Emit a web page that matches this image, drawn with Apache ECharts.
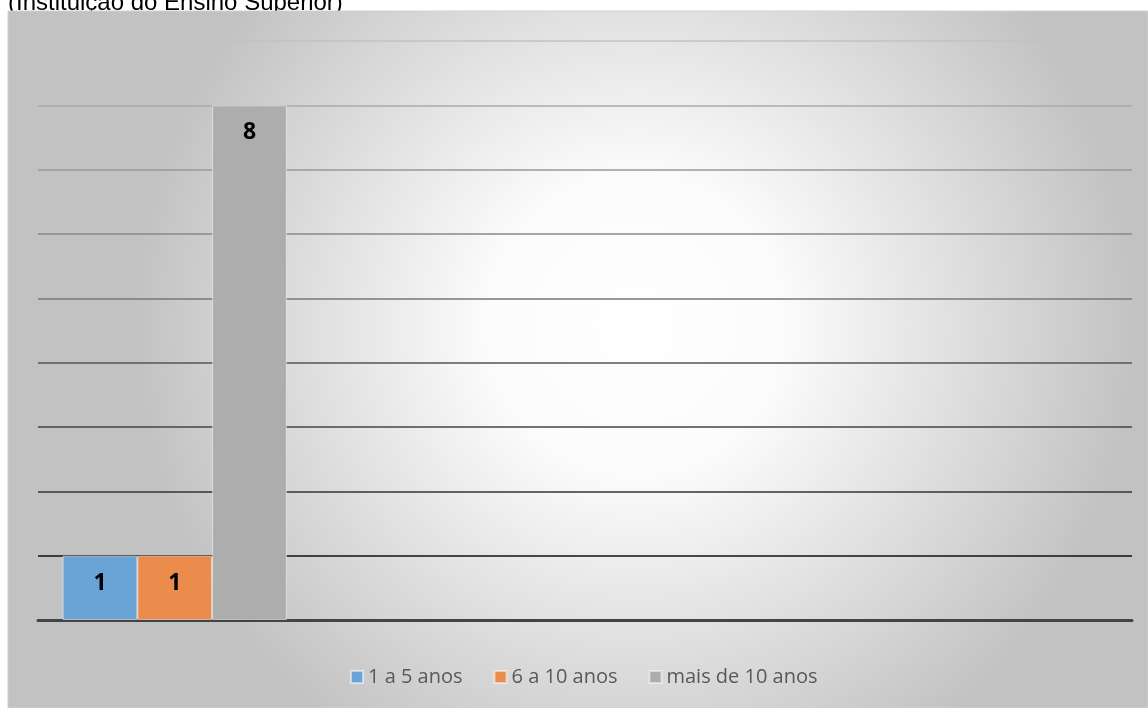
<!DOCTYPE html>
<html>
<head>
<meta charset="utf-8">
<script src="https://cdn.jsdelivr.net/npm/echarts@6/dist/echarts.min.js"></script>
<style>
  html, body { margin: 0; padding: 0; background: #fff; }
  #chart { width: 1148px; height: 708px; }
</style>
</head>
<body>
<div id="chart"></div>
<script>
// dados
const titleText = '(Instituição do Ensino Superior)';
const categories = ['Docentes', 'c2', 'c3', 'c4'];
const seriesNames = ['1 a 5 anos', '6 a 10 anos', 'mais de 10 anos'];
const serie1a5 = [1, null, null, null];
const serie6a10 = [1, null, null, null];
const serieMais10 = [8, null, null, null];
const yMin = 0;
const yMax = 9;
const yStep = 1;

const colors = ['#6aa3d6', '#ec8c4c', '#adadad'];
// linhas de grade: mais escuras em baixo, mais claras em cima
const gridColors = ['#222', '#111', '#333', '#444', '#555', '#777', '#888', '#999', '#aaa', '#c2c2c2'];

const myechart = echarts.init(document.getElementById('chart'));

const barLabel = {
  show: true,
  position: 'insideTop',
  distance: 16,
  color: '#000',
  fontWeight: 'bold',
  fontSize: 23,
  fontFamily: 'Open Sans',
};

const option = {
  animation: false,
  color: colors,
  graphic: [
    {
      type: 'text',
      left: 8,
      top: -9,
      z: -20,
      style: {
        text: titleText,
        fill: '#000',
        fontSize: 24,
        fontFamily: 'Liberation Sans',
      },
    },
    {
      type: 'rect',
      z: -10,
      silent: true,
      shape: { x: 8, y: 11, width: 1140, height: 697 },
      style: {
        fill: {
          type: 'radial',
          x: 0.55,
          y: 0.45,
          r: 0.72,
          colorStops: [
            { offset: 0, color: '#ffffff' },
            { offset: 0.3, color: '#fbfbfb' },
            { offset: 1, color: '#c2c2c2' },
          ],
        },
        stroke: '#d0d0d0',
        lineWidth: 1,
      },
    },
  ],
  legend: {
    left: 345,
    top: 662,
    icon: 'rect',
    itemWidth: 12,
    itemHeight: 12,
    itemGap: 31,
    textStyle: {
      color: '#595959',
      fontSize: 20,
      fontFamily: 'Open Sans',
    },
    data: seriesNames,
  },
  grid: {
    left: 38,
    right: 16,
    top: 41,
    bottom: 88,
  },
  xAxis: [
    {
      type: 'category',
      data: categories,
      axisLine: { lineStyle: { color: '#444', width: 3 } },
      axisTick: { show: false },
      axisLabel: { show: false },
    },
  ],
  yAxis: [
    {
      type: 'value',
      min: yMin,
      max: yMax,
      interval: yStep,
      axisLine: { show: false },
      axisTick: { show: false },
      axisLabel: { show: false },
      splitLine: { lineStyle: { color: gridColors, width: 1.5 } },
    },
  ],
  series: [
    {
      name: seriesNames[0],
      type: 'bar',
      barGap: '0%',
      barCategoryGap: '18%',
      itemStyle: { borderColor: 'rgba(255,255,255,0.5)', borderWidth: 1 },
      label: barLabel,
      data: serie1a5,
    },
    {
      name: seriesNames[1],
      type: 'bar',
      barGap: '0%',
      barCategoryGap: '18%',
      itemStyle: { borderColor: 'rgba(255,255,255,0.5)', borderWidth: 1 },
      label: barLabel,
      data: serie6a10,
    },
    {
      name: seriesNames[2],
      type: 'bar',
      barGap: '0%',
      barCategoryGap: '18%',
      itemStyle: { borderColor: 'rgba(255,255,255,0.5)', borderWidth: 1 },
      label: barLabel,
      data: serieMais10,
    },
  ],
};

myechart.setOption(option);
</script>
</body>
</html>
